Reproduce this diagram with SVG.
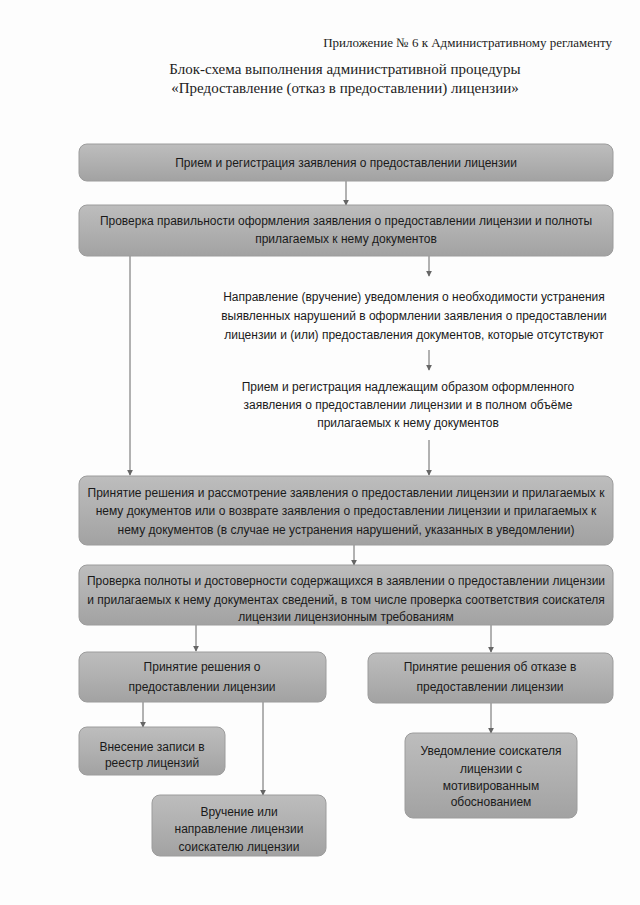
<svg xmlns="http://www.w3.org/2000/svg" width="640" height="905" viewBox="0 0 640 905">
<defs>
<linearGradient id="g" x1="0" y1="0" x2="0" y2="1">
<stop offset="0" stop-color="#bdbdbd"/>
<stop offset="0.5" stop-color="#b0b0b0"/>
<stop offset="1" stop-color="#a2a2a2"/>
</linearGradient>
<marker id="ar" viewBox="0 0 8 8" refX="7" refY="4" markerWidth="6" markerHeight="6" orient="auto" markerUnits="userSpaceOnUse">
<path d="M0,0 L8,4 L0,8 z" fill="#666"/>
</marker>
<style>
.box{fill:url(#g);stroke:#9c9c9c;stroke-width:1}
.t{font-family:"Liberation Sans",Arial,sans-serif;font-size:12px;fill:#1a1a1a;text-anchor:middle}
.s{font-family:"Liberation Serif","Times New Roman",serif;fill:#222}
.c{stroke:#666;stroke-width:1;fill:none;marker-end:url(#ar)}
</style>
</defs>
<rect width="640" height="905" fill="#fdfdfd"/>
<text class="s" x="612" y="47" font-size="13" text-anchor="end">Приложение № 6 к Административному регламенту</text>
<text class="s" x="345" y="74" font-size="15" text-anchor="middle">Блок-схема выполнения административной процедуры</text>
<text class="s" x="345" y="93" font-size="15" text-anchor="middle">«Предоставление (отказ в предоставлении) лицензии»</text>

<g id="connectors">
<line class="c" x1="346" y1="181" x2="346" y2="205"/>
<line class="c" x1="130" y1="256" x2="130" y2="475"/>
<line class="c" x1="429" y1="256" x2="429" y2="276"/>
<line class="c" x1="429" y1="350" x2="429" y2="370"/>
<line class="c" x1="429" y1="440" x2="429" y2="475"/>
<line class="c" x1="354" y1="545" x2="354" y2="565"/>
<line class="c" x1="196" y1="625" x2="196" y2="651"/>
<line class="c" x1="491" y1="625" x2="491" y2="652"/>
<line class="c" x1="143" y1="702" x2="143" y2="727"/>
<line class="c" x1="263" y1="702" x2="263" y2="795"/>
<line class="c" x1="491" y1="703" x2="491" y2="733"/>
</g>

<g id="n1"><rect class="box" x="79" y="144" width="534" height="37" rx="8"/>
<text class="t" x="346" y="167">Прием и регистрация заявления о предоставлении лицензии</text></g>

<g id="n2"><rect class="box" x="79" y="205" width="534" height="51" rx="8"/>
<text class="t" x="346" y="225">Проверка правильности оформления заявления о предоставлении лицензии и полноты</text>
<text class="t" x="346" y="243">прилагаемых к нему документов</text></g>

<g id="n3">
<text class="t" x="414" y="301">Направление (вручение) уведомления о необходимости устранения</text>
<text class="t" x="414" y="320">выявленных нарушений в оформлении заявления о предоставлении</text>
<text class="t" x="414" y="339">лицензии и (или) предоставления документов, которые отсутствуют</text></g>

<g id="n4">
<text class="t" x="408" y="391">Прием и регистрация надлежащим образом оформленного</text>
<text class="t" x="408" y="409">заявления о предоставлении лицензии и в полном объёме</text>
<text class="t" x="408" y="427">прилагаемых к нему документов</text></g>

<g id="n5"><rect class="box" x="79" y="476" width="534" height="69" rx="8"/>
<text class="t" x="346" y="497">Принятие решения и рассмотрение заявления о предоставлении лицензии и прилагаемых к</text>
<text class="t" x="346" y="515">нему документов или о возврате заявления о предоставлении лицензии и прилагаемых к</text>
<text class="t" x="346" y="534">нему документов (в случае не устранения нарушений, указанных в уведомлении)</text></g>

<g id="n6"><rect class="box" x="79" y="565" width="534" height="60" rx="8"/>
<text class="t" x="346" y="585">Проверка полноты и достоверности содержащихся в заявлении о предоставлении лицензии</text>
<text class="t" x="346" y="604">и прилагаемых к нему документах сведений, в том числе проверка соответствия соискателя</text>
<text class="t" x="346" y="621">лицензии лицензионным требованиям</text></g>

<g id="n7"><rect class="box" x="79" y="652" width="247" height="50" rx="8"/>
<text class="t" x="202" y="671">Принятие решения о</text>
<text class="t" x="202" y="691">предоставлении лицензии</text></g>

<g id="n8"><rect class="box" x="368" y="653" width="245" height="50" rx="8"/>
<text class="t" x="490" y="671">Принятие решения об отказе в</text>
<text class="t" x="490" y="691">предоставлении лицензии</text></g>

<g id="n9"><rect class="box" x="79" y="727" width="146" height="48" rx="8"/>
<text class="t" x="152" y="751">Внесение записи в</text>
<text class="t" x="152" y="767">реестр лицензий</text></g>

<g id="n10"><rect class="box" x="152" y="795" width="174" height="61" rx="8"/>
<text class="t" x="239" y="816">Вручение или</text>
<text class="t" x="239" y="833">направление лицензии</text>
<text class="t" x="239" y="851">соискателю лицензии</text></g>

<g id="n11"><rect class="box" x="405" y="733" width="172" height="85" rx="8"/>
<text class="t" x="491" y="755">Уведомление соискателя</text>
<text class="t" x="491" y="773">лицензии с</text>
<text class="t" x="491" y="790">мотивированным</text>
<text class="t" x="491" y="806">обоснованием</text></g>
</svg>
